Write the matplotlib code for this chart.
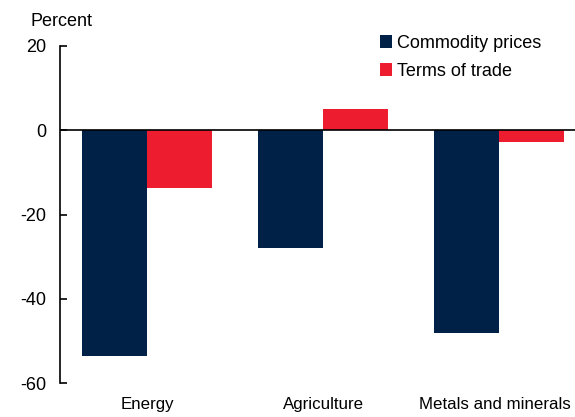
import matplotlib.pyplot as plt
import matplotlib.transforms as mtransforms
import numpy as np

plt.rcParams["font.family"] = ["Liberation Sans", "DejaVu Sans"]
plt.rcParams["axes.unicode_minus"] = False

categories = ["Energy", "Agriculture", "Metals and minerals"]
commodity_prices = [-53.5, -28.0, -48.2]
terms_of_trade = [-13.8, 5.0, -2.8]
series_labels = ["Commodity prices", "Terms of trade"]

navy = "#002147"
red = "#ED1C2E"

fig = plt.figure(figsize=(5.75, 4.17), dpi=100)
ax = fig.add_axes([60 / 575, 34 / 417, 515 / 575, 337 / 417])

x = np.arange(len(categories))
w = 0.37
ax.bar(x - w / 2, commodity_prices, w, color=navy, label=series_labels[0])
ax.bar(x + w / 2, terms_of_trade, w, color=red, label=series_labels[1])

ax.axhline(0, color="black", lw=1.2, zorder=3)

ax.set_xlim(-0.494, 2.43)
ax.set_ylim(-60, 20)
ax.set_yticks([20, 0, -20, -40, -60])
ax.set_xticks(x)
ax.set_xticklabels(categories)

for s in ["top", "right", "bottom"]:
    ax.spines[s].set_visible(False)
ax.spines["left"].set_linewidth(1.2)

ax.tick_params(axis="y", direction="in", length=5, width=1.2, labelsize=13, pad=10)
ax.tick_params(axis="x", length=0, labelsize=12.2, pad=10)

# last label sits against the right edge, nudge it in a little
last = ax.get_xticklabels()[-1]
last.set_transform(last.get_transform() +
                   mtransforms.ScaledTranslation(-4 / 100, 0, fig.dpi_scale_trans))

fig.text(61 / 575, 1 - 21 / 417, "Percent", fontsize=13, ha="center", va="center")

ax.legend(loc="upper left", bbox_to_anchor=(0.607, 1.055), frameon=False, fontsize=13,
          handlelength=0.7, handleheight=0.7, handletextpad=0.25, labelspacing=0.62,
          borderaxespad=0)

fig.savefig("out.png", dpi=100)
